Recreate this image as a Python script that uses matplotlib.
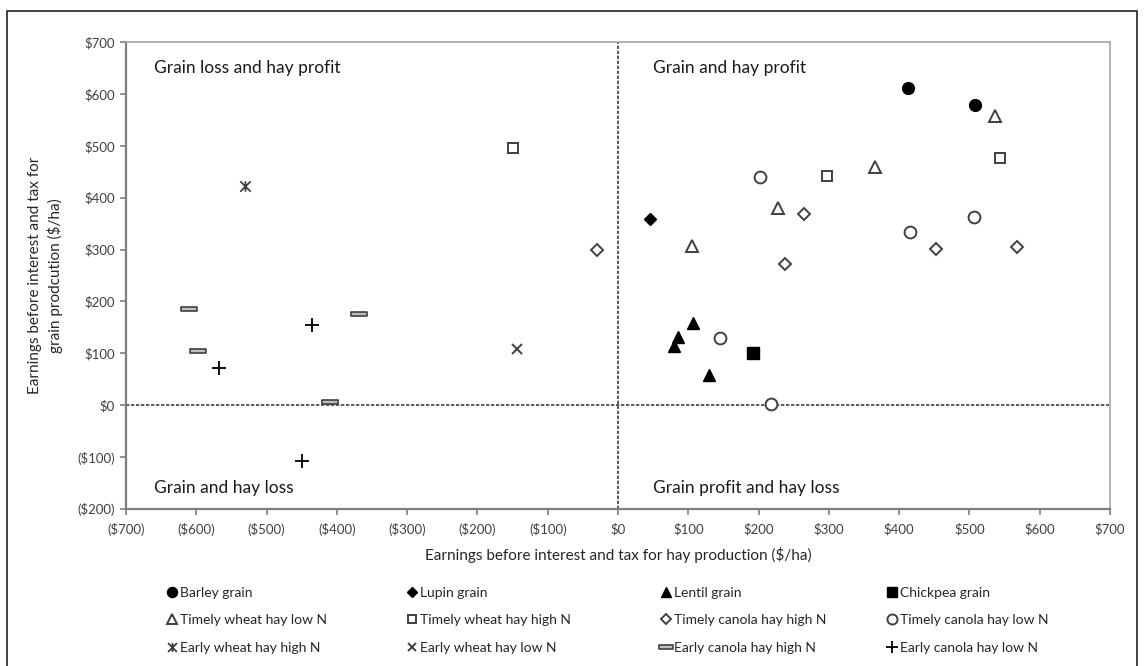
import numpy as np
import matplotlib
matplotlib.use("Agg")
import matplotlib.pyplot as plt
from matplotlib.path import Path
from matplotlib.patches import Rectangle
from matplotlib.ticker import FuncFormatter, MultipleLocator

plt.rcParams['font.family'] = ['Lato', 'DejaVu Sans']

# series data: (hay EBIT, grain EBIT) in $/ha
barley_x = [412, 508]
barley_y = [611, 578]
lupin_x = [46]
lupin_y = [358]
lentil_x = [107, 85, 80, 130]
lentil_y = [158, 131, 114, 58]
chickpea_x = [192]
chickpea_y = [100]
tw_low_x = [105, 228, 365, 537]
tw_low_y = [306, 381, 459, 557]
tw_high_x = [-150, 298, 543]
tw_high_y = [495, 441, 476]
tc_high_x = [-30, 238, 265, 453, 567]
tc_high_y = [299, 273, 368, 302, 304]
tc_low_x = [145, 202, 217, 416, 506]
tc_low_y = [129, 440, 2, 333, 362]
ew_high_x = [-530]
ew_high_y = [422]
ew_low_x = [-144]
ew_low_y = [108]
ec_high_x = [-610, -598, -410, -369]
ec_high_y = [185, 104, 6, 175]
ec_low_x = [-568, -436, -450]
ec_low_y = [72, 155, -108]

quadrant_labels = ["Grain loss and hay profit", "Grain and hay profit",
                   "Grain and hay loss", "Grain profit and hay loss"]

# custom markers
star = Path([(-1, -1), (1, 1), (-1, 1), (1, -1), (0, -1), (0, 1)],
            [Path.MOVETO, Path.LINETO, Path.MOVETO, Path.LINETO, Path.MOVETO, Path.LINETO])
bar = Path([(-1, -0.28), (1, -0.28), (1, 0.28), (-1, 0.28), (-1, -0.28)],
           [Path.MOVETO, Path.LINETO, Path.LINETO, Path.LINETO, Path.CLOSEPOLY])

dk = '#404040'
series = [
    ("Barley grain", barley_x, barley_y, dict(marker='o', ms=8.5, mfc='black', mec='black')),
    ("Lupin grain", lupin_x, lupin_y, dict(marker='D', ms=6.5, mfc='black', mec='black')),
    ("Lentil grain", lentil_x, lentil_y, dict(marker='^', ms=8.5, mfc='black', mec='black')),
    ("Chickpea grain", chickpea_x, chickpea_y, dict(marker='s', ms=8, mfc='black', mec='black')),
    ("Timely wheat hay low N", tw_low_x, tw_low_y, dict(marker='^', ms=8.5, mfc='white', mec=dk, mew=1.4)),
    ("Timely wheat hay high N", tw_high_x, tw_high_y, dict(marker='s', ms=7.5, mfc='white', mec=dk, mew=1.4)),
    ("Timely canola hay high N", tc_high_x, tc_high_y, dict(marker='D', ms=6.3, mfc='white', mec=dk, mew=1.4)),
    ("Timely canola hay low N", tc_low_x, tc_low_y, dict(marker='o', ms=8.5, mfc='white', mec=dk, mew=1.4)),
    ("Early wheat hay high N", ew_high_x, ew_high_y, dict(marker=star, ms=7.5, mfc='none', mec=dk, mew=1.3)),
    ("Early wheat hay low N", ew_low_x, ew_low_y, dict(marker='x', ms=7.5, mfc='none', mec=dk, mew=1.4)),
    ("Early canola hay high N", ec_high_x, ec_high_y, dict(marker=bar, ms=11.5, mfc='#bfbfbf', mec=dk, mew=1.2)),
    ("Early canola hay low N", ec_low_x, ec_low_y, dict(marker='+', ms=9.5, mfc='none', mec='black', mew=1.3)),
]

fig = plt.figure(figsize=(11.44, 6.66), dpi=100)
ax = fig.add_axes([126 / 1144, 1 - 509 / 666, 984 / 1144, 467 / 666])

ax.axhline(0, color=dk, lw=1.2, ls=(0, (2, 1)), zorder=1)
ax.axvline(0, color=dk, lw=1.2, ls=(0, (2, 1)), zorder=1)

handles = []
for name, xs, ys, st in series:
    h, = ax.plot(xs, ys, ls='none', label=name, zorder=3, **st)
    handles.append(h)

ax.set_xlim(-700, 700)
ax.set_ylim(-200, 700)
ax.xaxis.set_major_locator(MultipleLocator(100))
ax.yaxis.set_major_locator(MultipleLocator(100))
fmt = FuncFormatter(lambda v, p: f"(${abs(v):.0f})" if v < 0 else f"${v:.0f}")
ax.xaxis.set_major_formatter(fmt)
ax.yaxis.set_major_formatter(fmt)
ax.tick_params(direction='out', length=4, width=1.2, color='#7f7f7f',
               labelsize=9.5, labelcolor='#404040', pad=4)
ax.tick_params(axis='x', pad=6)
for s in ['left', 'bottom']:
    ax.spines[s].set_color('#7f7f7f')
    ax.spines[s].set_linewidth(1.6)
for s in ['top', 'right']:
    ax.spines[s].set_color('#a6a6a6')
    ax.spines[s].set_linewidth(1.2)

ax.set_xlabel("Earnings before interest and tax for hay production ($/ha)",
              fontsize=11, color='#262626', labelpad=8)
ax.set_ylabel("Earnings before interest and tax for\ngrain prodcution ($/ha)",
              fontsize=11, color='#262626', labelpad=10, linespacing=1.4)

qpos = [(-660, 650), (50, 650), (-660, -160), (50, -160)]
for (qx, qy), t in zip(qpos, quadrant_labels):
    ax.text(qx, qy, t, fontsize=12.5, color='#1a1a1a', va='center', ha='left')

# legend: 4 columns, 3 rows
col_x = [166, 406, 660, 886]
for i, cx in enumerate(col_x):
    leg = fig.legend(handles=[handles[i], handles[i + 4], handles[i + 8]],
                     loc='upper left', bbox_to_anchor=(cx / 1144, 1 - 587 / 666),
                     frameon=False, fontsize=10, handlelength=0.8, handletextpad=0.2,
                     labelspacing=1.1, borderpad=0, borderaxespad=0, markerscale=0.85)
    for t in leg.get_texts():
        t.set_color('#262626')

fig.patches.append(Rectangle((7 / 1144, -0.02), 1130 / 1144, 1.02 - 11 / 666,
                             transform=fig.transFigure, fill=False, ec='#222222', lw=1.2))

fig.savefig("out.png", dpi=100)
